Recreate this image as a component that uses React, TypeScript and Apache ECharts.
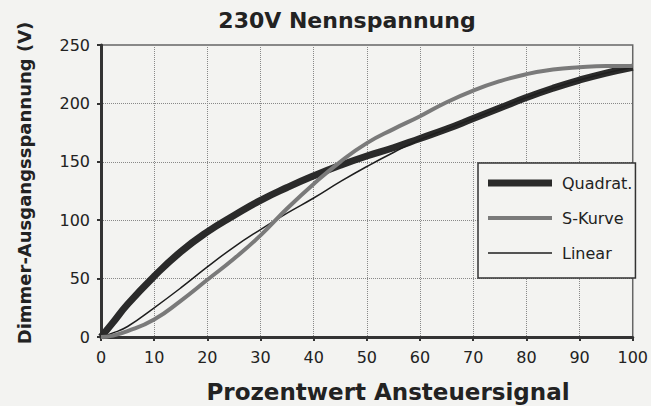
import React, { useEffect, useRef } from "react";
import * as echarts from "echarts";

const xValues = [0, 2, 5, 10, 15, 20, 25, 30, 35, 40, 45, 50, 55, 60, 65, 70, 75, 80, 85, 90, 95, 100];
const quadrat = [0, 11, 28, 52, 73, 90, 104, 117, 128, 138, 147, 155, 162, 170, 178, 187, 196, 205, 213, 220, 226, 231];
const sKurve = [0, 1, 5, 15, 31, 49, 67, 87, 110, 131, 150, 166, 178, 189, 201, 211, 219, 225, 229, 231, 232, 232];
const linear = [0, 3, 9, 25, 42, 60, 77, 92, 106, 119, 133, 146, 158, 169, 178, 187, 196, 205, 213, 220, 226, 231];
const seriesNames = ["Quadrat.", "S-Kurve", "Linear"];

const titleText = "230V Nennspannung";
const xTitle = "Prozentwert Ansteuersignal";
const yTitle = "Dimmer-Ausgangsspannung (V)";

const FONT = "DejaVu Sans";
const BG = "#f3f3f1";

const pairs = (ys: number[]) => xValues.map((x, i) => [x, ys[i]]);

export default function App() {
  const ref = useRef<HTMLDivElement>(null);
  useEffect(() => {
    if (!ref.current) return;
    const chart = echarts.init(ref.current, undefined, { renderer: "svg" });
    chart.setOption({
      animation: false,
      backgroundColor: BG,
      grid: {
        left: 101,
        right: 16,
        top: 45,
        bottom: 69,
        show: true,
        backgroundColor: BG,
        borderColor: "#666",
        borderWidth: 1.5,
      },
      xAxis: {
        type: "value",
        min: 0,
        max: 100,
        interval: 10,
        axisLine: { show: true, lineStyle: { color: "#333", width: 3 } },
        axisTick: { show: true, length: 4, lineStyle: { color: "#333", width: 2 } },
        axisLabel: { fontSize: 16, color: "#222", fontFamily: FONT, margin: 12 },
        splitLine: {
          show: true,
          showMinLine: false,
          showMaxLine: false,
          lineStyle: { color: "#888", type: "dotted", width: 1 },
        },
      },
      yAxis: {
        type: "value",
        min: 0,
        max: 250,
        interval: 50,
        axisLine: { show: true, lineStyle: { color: "#333", width: 3 } },
        axisTick: { show: true, length: 4, lineStyle: { color: "#333", width: 2 } },
        axisLabel: { fontSize: 16, color: "#222", fontFamily: FONT, margin: 11 },
        splitLine: {
          show: true,
          showMinLine: false,
          showMaxLine: false,
          lineStyle: { color: "#888", type: "dotted", width: 1 },
        },
      },
      legend: {
        orient: "vertical",
        left: 478,
        top: 163,
        padding: [12, 3, 17, 10],
        itemGap: 19,
        itemWidth: 64,
        itemHeight: 16,
        backgroundColor: BG,
        borderColor: "#333",
        borderWidth: 1.5,
        symbolKeepAspect: true,
        itemStyle: { borderWidth: 0 },
        textStyle: { fontSize: 16, lineHeight: 16, color: "#222", fontFamily: FONT, padding: [0, 0, 0, 5] },
        data: [
          { name: seriesNames[0], icon: "path://M0,0h64v7h-64z" },
          { name: seriesNames[1], icon: "path://M0,0h64v4h-64z" },
          { name: seriesNames[2], icon: "path://M0,0h64v1.5h-64z" },
        ],
      },
      graphic: [
        {
          type: "text",
          x: 347,
          y: 20,
          style: {
            text: titleText,
            fontSize: 22,
            fontWeight: "bold",
            fontFamily: FONT,
            fill: "#222",
            align: "center",
            verticalAlign: "middle",
          },
        },
        {
          type: "text",
          x: 388,
          y: 392,
          style: {
            text: xTitle,
            fontSize: 23,
            fontWeight: "bold",
            fontFamily: FONT,
            fill: "#222",
            align: "center",
            verticalAlign: "middle",
          },
        },
        {
          type: "text",
          x: 24,
          y: 183,
          rotation: Math.PI / 2,
          style: {
            text: yTitle,
            fontSize: 18,
            fontWeight: "bold",
            fontFamily: FONT,
            fill: "#222",
            align: "center",
            verticalAlign: "middle",
          },
        },
      ],
      series: [
        {
          name: seriesNames[0],
          type: "line",
          data: pairs(quadrat),
          smooth: true,
          showSymbol: false,
          color: "#2a2a2a",
          itemStyle: { color: "#2a2a2a" },
          lineStyle: { color: "#2a2a2a", width: 7 },
          z: 2,
        },
        {
          name: seriesNames[2],
          type: "line",
          data: pairs(linear),
          smooth: true,
          showSymbol: false,
          color: "#1e1e1e",
          itemStyle: { color: "#1e1e1e" },
          lineStyle: { color: "#1e1e1e", width: 1.5 },
          z: 3,
        },
        {
          name: seriesNames[1],
          type: "line",
          data: pairs(sKurve),
          smooth: true,
          showSymbol: false,
          color: "#7a7a7a",
          itemStyle: { color: "#7a7a7a" },
          lineStyle: { color: "#7a7a7a", width: 4 },
          z: 4,
        },
      ],
    });
    return () => chart.dispose();
  }, []);
  return (
    <div
      ref={ref}
      style={{ position: "absolute", left: 0, top: 0, width: 651, height: 406, background: BG }}
    />
  );
}
